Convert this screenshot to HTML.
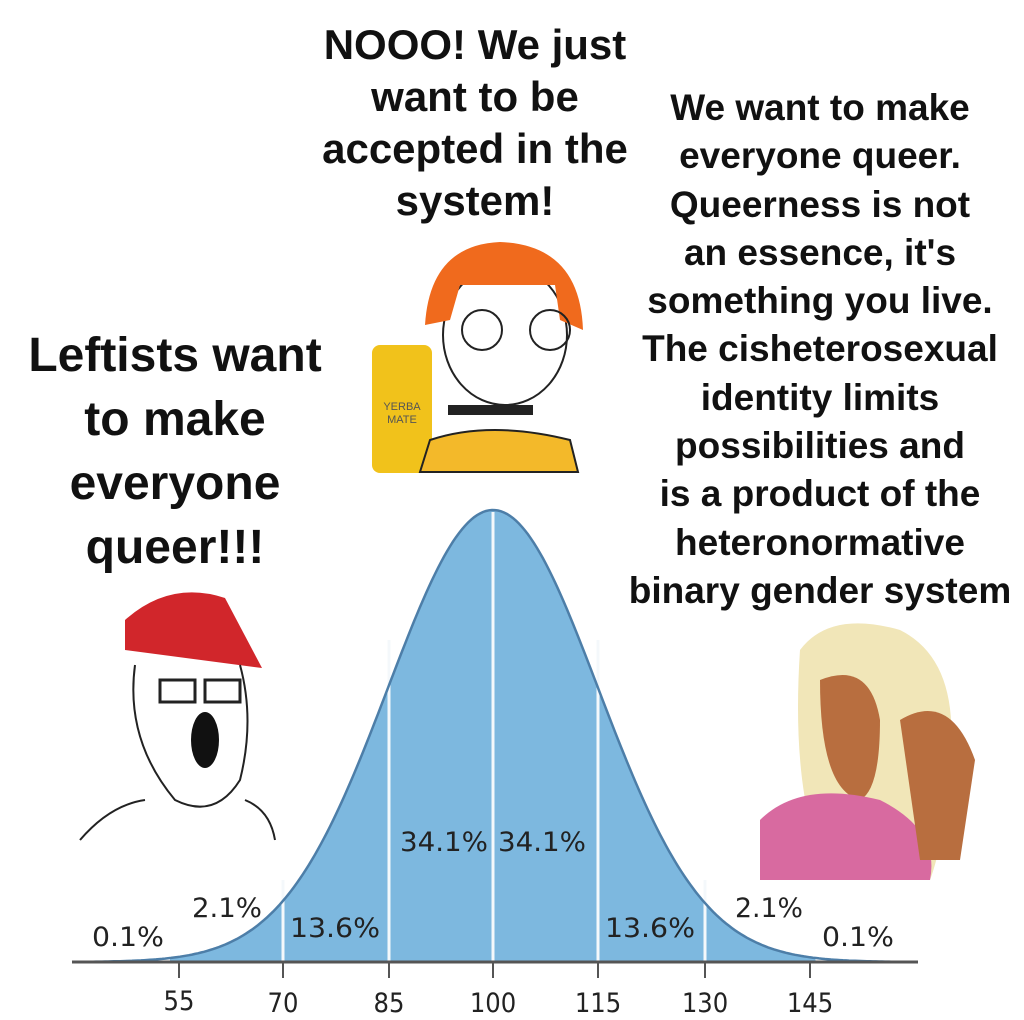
<!DOCTYPE html>
<html><head><meta charset="utf-8"><style>
html,body{margin:0;padding:0;background:#fff;}
body{width:1024px;height:1020px;position:relative;overflow:hidden;font-family:"Liberation Sans",sans-serif;}
.t{position:absolute;font-weight:bold;color:#111;text-align:center;white-space:nowrap;}
</style></head><body>
<div class="t" style="left:275px;top:19px;width:400px;font-size:42px;line-height:52px;">NOOO! We just<br>want to be<br>accepted in the<br>system!</div>
<div class="t" style="left:610px;top:84px;width:420px;font-size:37px;line-height:48.3px;">We want to make<br>everyone queer.<br>Queerness is not<br>an essence, it's<br>something you live.<br>The cisheterosexual<br>identity limits<br>possibilities and<br>is a product of the<br>heteronormative<br>binary gender system</div>
<div class="t" style="left:-10px;top:324px;width:370px;font-size:48px;line-height:64px;">Leftists want<br>to make<br>everyone<br>queer!!!</div>
<svg width="1024" height="1020" style="position:absolute;left:0;top:0">
<rect x="372" y="345" width="60" height="128" rx="8" fill="#f1c21b"/>
<text x="402" y="410" font-size="11" text-anchor="middle" fill="#555" font-family="Liberation Sans">YERBA</text>
<text x="402" y="423" font-size="11" text-anchor="middle" fill="#555" font-family="Liberation Sans">MATE</text>
<path d="M430 440 Q490 420 570 440 L578 472 L420 472 Z" fill="#f3b92a" stroke="#222" stroke-width="2"/>
<ellipse cx="505" cy="335" rx="62" ry="70" fill="#fff" stroke="#222" stroke-width="2"/>
<path d="M425 325 Q430 245 500 242 Q580 245 583 330 L560 320 L555 285 L460 285 L450 320 Z" fill="#f06a1d"/>
<circle cx="482" cy="330" r="20" fill="none" stroke="#222" stroke-width="2"/>
<circle cx="550" cy="330" r="20" fill="none" stroke="#222" stroke-width="2"/>
<rect x="448" y="405" width="85" height="10" fill="#222"/>
<path d="M125 620 Q170 580 225 598 L262 668 L125 650 Z" fill="#d1262b"/>
<path d="M135 665 Q125 740 175 800 Q215 820 240 780 Q255 720 240 665" fill="#fff" stroke="#222" stroke-width="2"/>
<ellipse cx="205" cy="740" rx="14" ry="28" fill="#111"/>
<rect x="160" y="680" width="35" height="22" fill="none" stroke="#222" stroke-width="3"/>
<rect x="205" y="680" width="35" height="22" fill="none" stroke="#222" stroke-width="3"/>
<path d="M80 840 Q110 805 145 800 M245 800 Q270 810 275 840" fill="none" stroke="#222" stroke-width="2"/>
<path d="M800 650 Q830 610 900 630 Q960 660 950 760 Q945 840 930 880 L830 880 Q790 800 800 650Z" fill="#f1e6b8"/>
<path d="M820 680 Q870 660 880 720 Q880 790 860 800 Q820 790 820 680Z" fill="#b86e3f"/>
<path d="M760 820 Q800 780 880 800 Q940 830 930 880 L760 880 Z" fill="#d86aa0"/>
<path d="M900 720 Q950 690 975 760 L960 860 L920 860 Z" fill="#b86e3f"/>
<path id="fill" fill="#7db8df"/>
<g stroke="#f4f8fb" stroke-width="3">
<line x1="283" y1="962" x2="283" y2="880"/><line x1="389" y1="962" x2="389" y2="640"/>
<line x1="493" y1="962" x2="493" y2="512"/><line x1="598" y1="962" x2="598" y2="640"/>
<line x1="705" y1="962" x2="705" y2="880"/>
</g>
<path id="curve" fill="none" stroke="#4d7ea8" stroke-width="2.5"/>
<line x1="72" y1="962" x2="918" y2="962" stroke="#555" stroke-width="3"/>
<g stroke="#555" stroke-width="2">
<line x1="179" y1="962" x2="179" y2="978"/><line x1="283" y1="962" x2="283" y2="978"/>
<line x1="389" y1="962" x2="389" y2="978"/><line x1="493" y1="962" x2="493" y2="978"/>
<line x1="598" y1="962" x2="598" y2="978"/><line x1="705" y1="962" x2="705" y2="978"/>
<line x1="810" y1="962" x2="810" y2="978"/>
</g>
<g font-family="DejaVu Sans Condensed, DejaVu Sans, sans-serif" font-size="27" fill="#222">
<text x="92" y="946" textLength="72" lengthAdjust="spacingAndGlyphs">0.1%</text>
<text x="192" y="917" textLength="70" lengthAdjust="spacingAndGlyphs">2.1%</text>
<text x="290" y="937" textLength="90" lengthAdjust="spacingAndGlyphs">13.6%</text>
<text x="400" y="851" textLength="88" lengthAdjust="spacingAndGlyphs">34.1%</text>
<text x="498" y="851" textLength="88" lengthAdjust="spacingAndGlyphs">34.1%</text>
<text x="605" y="937" textLength="90" lengthAdjust="spacingAndGlyphs">13.6%</text>
<text x="735" y="917" textLength="68" lengthAdjust="spacingAndGlyphs">2.1%</text>
<text x="822" y="946" textLength="72" lengthAdjust="spacingAndGlyphs">0.1%</text>
</g>
<g font-family="DejaVu Sans Condensed, DejaVu Sans, sans-serif" font-size="27" fill="#222" text-anchor="middle">
<text x="179" y="1010">55</text><text x="283" y="1012">70</text><text x="389" y="1012">85</text>
<text x="493" y="1012">100</text><text x="598" y="1012">115</text><text x="705" y="1012">130</text>
<text x="810" y="1012">145</text>
</g>
</svg>
<script>
var c="",f="";
for(var x=72;x<=918;x+=3){var y=962-452*Math.exp(-Math.pow((x-493)/105,2)/2);c+=(x==72?"M":"L")+x+" "+y.toFixed(1)+" ";}
for(var x=170;x<=816;x+=3){var y=962-452*Math.exp(-Math.pow((x-493)/105,2)/2);f+=(x==170?"M":"L")+x+" "+y.toFixed(1)+" ";}
f+="L816 962 L170 962 Z";
document.getElementById("curve").setAttribute("d",c);
document.getElementById("fill").setAttribute("d",f);
</script>
</body></html>
